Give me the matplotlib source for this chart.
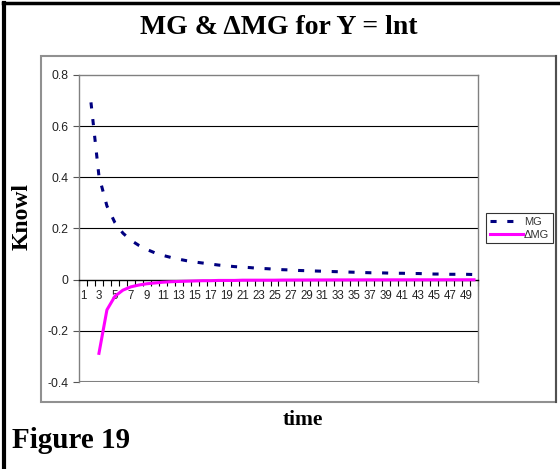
import numpy as np
import matplotlib
matplotlib.use('Agg')
from matplotlib import pyplot as plt
from matplotlib.patches import Rectangle
from matplotlib.lines import Line2D

# data (category 1..50)
t_mg = list(range(2, 51))
mg = [0.693, 0.405, 0.288, 0.223, 0.182, 0.154, 0.134, 0.118, 0.105, 0.095,
      0.087, 0.080, 0.074, 0.069, 0.065, 0.061, 0.057, 0.054, 0.051, 0.049,
      0.047, 0.044, 0.043, 0.041, 0.039, 0.038, 0.036, 0.035, 0.034, 0.033,
      0.032, 0.031, 0.030, 0.029, 0.028, 0.027, 0.027, 0.026, 0.025, 0.025,
      0.024, 0.024, 0.023, 0.022, 0.022, 0.021, 0.021, 0.021, 0.020]
t_dmg = list(range(3, 51))
dmg = [-0.288, -0.118, -0.065, -0.041, -0.028, -0.021, -0.016, -0.013, -0.010, -0.008,
       -0.007, -0.006, -0.005, -0.004, -0.004, -0.003, -0.003, -0.003, -0.002, -0.002,
       -0.002, -0.002, -0.002, -0.0015, -0.0014, -0.0013, -0.0012, -0.0011, -0.0011, -0.0010,
       -0.0009, -0.0009, -0.0008, -0.0008, -0.0007, -0.0007, -0.0007, -0.0006, -0.0006, -0.0006,
       -0.0005, -0.0005, -0.0005, -0.0005, -0.0004, -0.0004, -0.0004, -0.0004]
xlabels = [str(i) for i in range(1, 50, 2)]
yticks = [-0.4, -0.2, 0, 0.2, 0.4, 0.6, 0.8]
ylabels = ['-0.4', '-0.2', '0', '0.2', '0.4', '0.6', '0.8']

W, H = 560, 469
fig = plt.figure(figsize=(W / 100, H / 100), dpi=100)
fig.patch.set_facecolor('white')

def fx(px):
    return px / W

def fy(py):
    return 1 - py / H

# outer page frame (top + left)
fig.add_artist(Line2D([fx(3), fx(560)], [fy(3), fy(3)], color='black', lw=2.5))
fig.add_artist(Line2D([fx(4), fx(4)], [fy(3), fy(469)], color='black', lw=3))

# chart area border
fig.add_artist(Rectangle((fx(41), fy(402)), fx(556) - fx(41), fy(56) - fy(402),
                         fill=False, edgecolor='#909090', lw=1.5))
fig.add_artist(Line2D([fx(556), fx(556)], [fy(56), fy(402)], color='#505050', lw=1.5))

ax = fig.add_axes([fx(79), fy(382), fx(478) - fx(79), fy(75) - fy(382)])
ax.set_xlim(0.5, 50.5)
ax.set_ylim(-0.4, 0.8)

for y in [-0.2, 0.2, 0.4, 0.6]:
    ax.axhline(y, color='black', lw=0.8, zorder=1)

ax.plot(t_mg, mg, color='#000080', lw=2.2, dashes=(2.0, 3.5), label='MG', zorder=3)
ax.plot(t_dmg, dmg, color='#FF00FF', lw=2.2, label='\u0394MG', zorder=3)

for s in ['left', 'top', 'right']:
    ax.spines[s].set_color('#808080')
    ax.spines[s].set_linewidth(1.0)
ax.spines['bottom'].set_position(('data', 0))
ax.spines['bottom'].set_color('black')
ax.spines['bottom'].set_linewidth(1.0)
ax.axhline(-0.4, color='#808080', lw=1.5, zorder=2)

ax.set_xticks(range(1, 50, 2))
ax.set_xticklabels(xlabels, fontsize=8.3, family='Liberation Sans', color='#222222')
ax.set_xticks(np.arange(0.5, 51, 1), minor=True)
ax.tick_params(axis='x', which='major', length=0, pad=7.5)
ax.tick_params(axis='x', which='minor', length=4, direction='out', color='black', width=0.8)

ax.set_yticks(yticks)
ax.set_yticklabels(ylabels, fontsize=8.8, family='Liberation Sans', color='#222222')
ax.tick_params(axis='y', length=4, direction='out', color='#555555', width=0.8, pad=3.5)

leg = ax.legend(loc='center', bbox_to_anchor=(fx(519.5), fy(228.5)),
                bbox_transform=fig.transFigure, fancybox=False, frameon=True,
                prop={'family': 'Liberation Sans', 'size': 8},
                handlelength=3.0, handletextpad=0.1, borderpad=0.3,
                labelspacing=0.3, borderaxespad=0)
leg.get_frame().set_edgecolor('black')
leg.get_frame().set_linewidth(0.8)
for txt in leg.get_texts():
    txt.set_color('#333333')

fig.text(fx(279), fy(27), 'MG & \u0394MG for Y = lnt', ha='center', va='center',
         family='Liberation Serif', weight='bold', fontsize=20)
fig.text(fx(22), fy(216), 'Knowl', ha='center', va='center', rotation=90,
         family='Liberation Serif', weight='bold', fontsize=17)
fig.text(fx(303), fy(420), 'time', ha='center', va='center',
         family='Liberation Serif', weight='bold', fontsize=15.5)
fig.text(fx(12), fy(448), 'Figure 19', ha='left', va='baseline',
         family='Liberation Serif', weight='bold', fontsize=21)

fig.savefig('out.png', dpi=100)
